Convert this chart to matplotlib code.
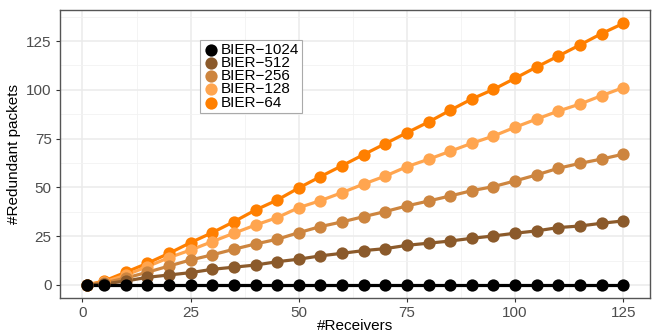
import matplotlib.pyplot as plt
import numpy as np

plt.rcParams['font.family'] = ['Liberation Sans', 'DejaVu Sans']

# number of receivers
receivers = [1, 5, 10, 15, 20, 25, 30, 35, 40, 45, 50, 55, 60, 65,
             70, 75, 80, 85, 90, 95, 100, 105, 110, 115, 120, 125]

# redundant packets per BIER bitstring length
bier_1024 = [0] * 26
bier_512 = [0, 0.5, 2.0, 3.9, 5.1, 6.3, 8.0, 9.1, 10.2, 11.9, 13.2, 14.9, 16.2, 17.6,
            18.6, 20.3, 21.4, 22.5, 23.9, 25.1, 26.5, 27.7, 29.4, 30.2, 31.6, 32.8]
bier_256 = [0, 1.0, 3.5, 6.5, 9.7, 12.8, 15.4, 18.3, 21.0, 23.4, 26.8, 29.9, 32.3, 35.0,
            37.6, 40.5, 43.0, 45.6, 48.3, 50.4, 53.3, 56.4, 59.8, 62.3, 64.5, 67.0]
bier_128 = [0, 1.5, 5.0, 9.4, 14.0, 17.9, 22.2, 26.5, 30.7, 34.5, 39.6, 43.2, 47.3, 51.7,
            55.8, 60.6, 64.4, 68.5, 72.6, 76.3, 80.8, 85.0, 89.1, 92.7, 97.0, 101.1]
bier_64 = [0, 2.0, 6.5, 11.1, 16.2, 21.7, 26.8, 32.4, 38.4, 43.5, 49.7, 55.5, 61.1, 66.8,
           72.4, 78.0, 83.5, 89.5, 95.3, 100.2, 105.9, 111.7, 117.3, 123.0, 128.8, 134.0]

labels = ['BIER\u22121024', 'BIER\u2212512', 'BIER\u2212256', 'BIER\u2212128', 'BIER\u221264']
series = [bier_1024, bier_512, bier_256, bier_128, bier_64]
colors = ['#000000', '#8B5A2B', '#CD853F', '#FFA54F', '#FF7F00']

fig = plt.figure(figsize=(6.62, 3.33), dpi=100)
ax = fig.add_axes([60 / 662, 1 - 298 / 333, 590 / 662, 288 / 333])

handles = {}
for lab, ys, col in reversed(list(zip(labels, series, colors))):
    ax.plot(receivers, ys, color=col, lw=2.3, zorder=3)
    h = ax.scatter(receivers, ys, s=78, color=col, zorder=4, linewidths=0)
    handles[lab] = h

ax.set_xlim(-5.2, 131.2)
ax.set_ylim(-6.7, 140.9)
ax.set_xticks([0, 25, 50, 75, 100, 125])
ax.set_yticks([0, 25, 50, 75, 100, 125])
ax.set_xticks(np.arange(12.5, 130, 25), minor=True)
ax.set_yticks(np.arange(12.5, 140, 25), minor=True)
ax.grid(which='major', color='#EBEBEB', lw=1.1, zorder=0)
ax.grid(which='minor', color='#F2F2F2', lw=0.6, zorder=0)
ax.set_axisbelow(True)

ax.tick_params(which='major', length=3, width=0.8, color='#333333',
               labelcolor='#4D4D4D', labelsize=11, pad=3)
ax.tick_params(which='minor', length=0)
for side in ['left', 'bottom', 'top', 'right']:
    ax.spines[side].set_color('#555555')
    ax.spines[side].set_linewidth(1.0)

ax.set_xlabel('#Receivers', fontsize=11, labelpad=-1)
ax.set_ylabel('#Redundant packets', fontsize=11, labelpad=4)

leg = ax.legend([handles[l] for l in labels], labels, loc='upper left',
                bbox_to_anchor=(0.238, 0.897), fontsize=11, frameon=True,
                fancybox=False, edgecolor='#AAAAAA', framealpha=1,
                handletextpad=0.1, handlelength=1.0, labelspacing=-0.05,
                borderpad=0.2, borderaxespad=0, scatterpoints=1)
leg.get_frame().set_linewidth(0.8)

fig.savefig('out.png', dpi=100)
